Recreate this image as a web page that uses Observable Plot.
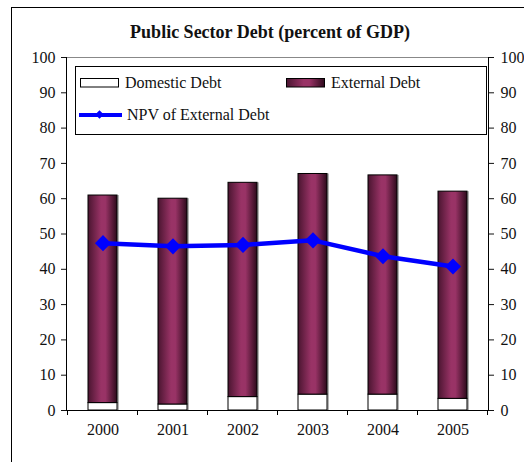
<!DOCTYPE html>
<html>
<head>
<meta charset="utf-8">
<script src="https://cdn.jsdelivr.net/npm/d3@7"></script>
<script src="https://cdn.jsdelivr.net/npm/@observablehq/plot@0.6"></script>
<style>
  html, body { margin: 0; padding: 0; background: #fff; overflow: hidden; }
  #wrap { position: relative; width: 524px; height: 462px; font-family: 'Liberation Serif'; color: #111; }
  #frame { position: absolute; left: 11px; top: 7px; width: 600px; height: 600px; border-left: 1px solid #000; border-top: 1px solid #000; }
  #title { position: absolute; left: 0; width: 540px; top: 22px; text-align: center; font-weight: bold; font-size: 18px; font-family: 'Liberation Serif'; }
  #legend { position: absolute; left: 75px; top: 66px; width: 410px; height: 67px; border: 1px solid #000; background: #fff; font-size: 16px; font-family: 'Liberation Serif'; }
  .item { position: absolute; display: flex; align-items: center; white-space: nowrap; }
  #chart { position: absolute; left: 0; top: 0; }
  #chart svg, #chart svg text { font-family: 'Liberation Serif'; }
</style>
</head>
<body>
<div id="wrap">
  <div id="frame"></div>
  <div id="chart"></div>
  <div id="title"></div>
  <div id="legend"></div>
</div>
<script>
const titleText = "Public Sector Debt (percent of GDP)";
const years = ["2000", "2001", "2002", "2003", "2004", "2005"];
const domesticDebt = [2.1, 1.7, 3.8, 4.5, 4.5, 3.3];
const totalDebt = [60.9, 60.0, 64.5, 67.0, 66.6, 62.0];
const npvExternalDebt = [47.4, 46.5, 46.9, 48.2, 43.7, 40.8];
const yTicks = [0, 10, 20, 30, 40, 50, 60, 70, 80, 90, 100];
const seriesNames = ["Domestic Debt", "External Debt", "NPV of External Debt"];
const colors = { domestic: "#ffffff", externalMid: "#993366", externalEdgeL: "#4a1530", externalEdgeR: "#2e0a1c", npv: "#0000ff" };

const rows = years.map((y, i) => ({
  year: y,
  domestic: domesticDebt[i],
  external: totalDebt[i] - domesticDebt[i],
  total: totalDebt[i],
  npv: npvExternalDebt[i]
}));

// gradient defs mark
const defsMark = () => {
  const svg = d3.create("svg:g");
  const defs = svg.append("defs");
  const g = defs.append("linearGradient").attr("id", "extGrad").attr("x1", "0").attr("x2", "1").attr("y1", "0").attr("y2", "0");
  g.append("stop").attr("offset", "0%").attr("stop-color", colors.externalEdgeL);
  g.append("stop").attr("offset", "45%").attr("stop-color", colors.externalMid);
  g.append("stop").attr("offset", "60%").attr("stop-color", colors.externalMid);
  g.append("stop").attr("offset", "100%").attr("stop-color", colors.externalEdgeR);
  return svg.node();
};

// x-axis ticks at band boundaries
const boundaryTicks = (index, scales, values, dims) => {
  const x = scales.x, y = scales.y;
  const bw = x.bandwidth(), step = x.step();
  const pad = (step - bw) / 2;
  const g = d3.create("svg:g").attr("stroke", "#000").attr("stroke-width", 1);
  const y0 = y(0);
  const edges = years.map(d => x(d) - pad).concat([x(years[years.length - 1]) + bw + pad]);
  edges.forEach(e => g.append("line").attr("x1", e).attr("x2", e).attr("y1", y0).attr("y2", y0 + 5));
  return g.node();
};

const chart = Plot.plot({
  width: 524,
  height: 462,
  marginTop: 57,
  marginBottom: 52,
  marginLeft: 66,
  marginRight: 36,
  style: { fontFamily: "'Liberation Serif'", fontSize: "16px", color: "#111", background: "transparent" },
  x: { domain: years, paddingInner: 0.59, paddingOuter: 0.295, label: null },
  y: { domain: [0, 100], label: null },
  marks: [
    defsMark,
    Plot.ruleY([100], { stroke: "#888", strokeWidth: 1 }),
    Plot.barY(rows, { x: "year", y: "total", fill: "#b5b5b5", dx: 2 }),
    Plot.barY(rows, { x: "year", y1: 0, y2: "domestic", fill: colors.domestic, stroke: "#000", strokeWidth: 1 }),
    Plot.barY(rows, { x: "year", y1: "domestic", y2: "total", fill: "url(#extGrad)", stroke: "#000", strokeWidth: 1 }),
    Plot.line(rows, { x: "year", y: "npv", stroke: colors.npv, strokeWidth: 4.5 }),
    Plot.dot(rows, { x: "year", y: "npv", symbol: "square", r: 5.6, rotate: 45, fill: colors.npv, stroke: colors.npv }),
    Plot.ruleY([0], { stroke: "#000", strokeWidth: 1 }),
    Plot.frame({ anchor: "left", stroke: "#000" }),
    Plot.frame({ anchor: "right", stroke: "#000" }),
    Plot.axisY({ anchor: "left", ticks: yTicks, tickSize: 5, tickPadding: 6, label: null }),
    Plot.axisY({ anchor: "right", ticks: yTicks, tickSize: 5, tickPadding: 7, label: null }),
    Plot.axisX({ tickSize: 0, tickPadding: 13, label: null }),
    boundaryTicks
  ]
});
document.getElementById("chart").appendChild(chart);

document.getElementById("title").textContent = titleText;

// legend
const legend = document.getElementById("legend");
function addItem(left, top, swatchHtml, text) {
  const d = document.createElement("div");
  d.className = "item";
  d.style.left = left + "px";
  d.style.top = top + "px";
  d.innerHTML = swatchHtml + `<span style="margin-left:5px">${text}</span>`;
  legend.appendChild(d);
}
addItem(4, 7, `<svg width="40" height="10"><rect x="0.5" y="0.5" width="38" height="8.5" fill="#fff" stroke="#000"/></svg>`, seriesNames[0]);
addItem(210, 7, `<svg width="40" height="10"><rect x="0.5" y="0.5" width="38" height="8.5" fill="url(#extGrad)" stroke="#000"/></svg>`, seriesNames[1]);
addItem(3, 39, `<svg width="43" height="12"><line x1="0" x2="43" y1="6" y2="6" stroke="${colors.npv}" stroke-width="4"/><rect x="17.5" y="2.5" width="6" height="6" fill="${colors.npv}" transform="rotate(45 20.5 5.5)"/></svg>`, seriesNames[2]);
</script>
</body>
</html>
